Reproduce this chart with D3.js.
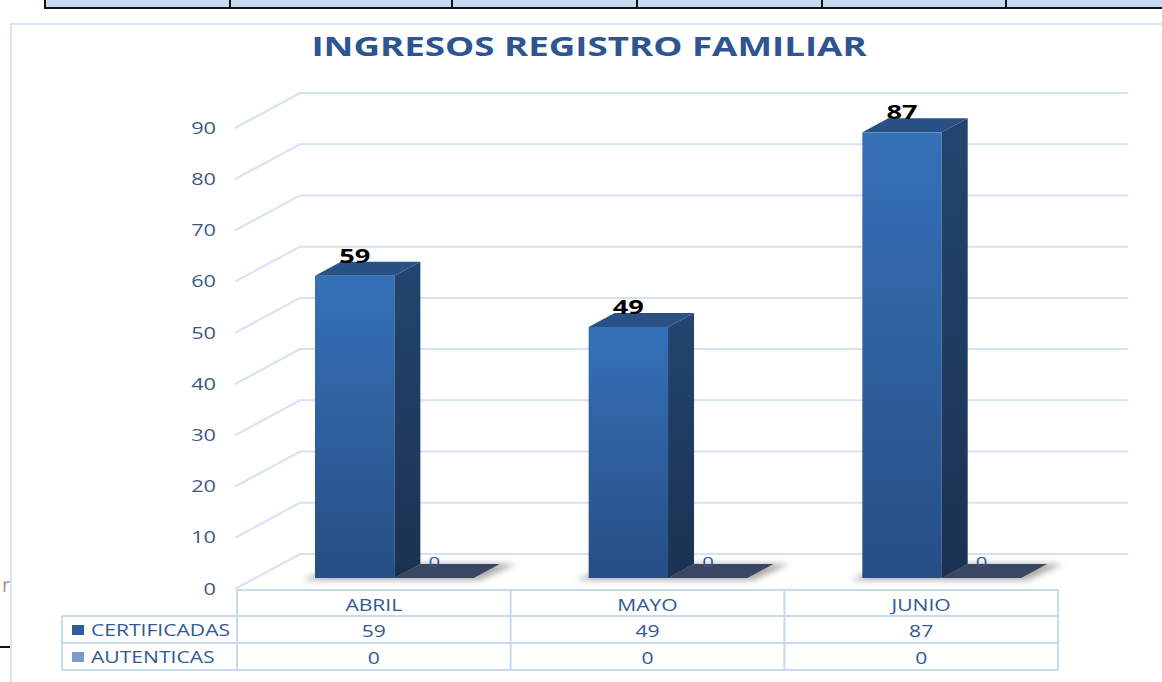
<!DOCTYPE html>
<html>
<head>
<meta charset="utf-8">
<script src="https://cdn.jsdelivr.net/npm/d3@7"></script>
<style>
  body { margin: 0; background: #fff; }
  svg { display: block; font-family: "Open Sans", "DejaVu Sans", sans-serif; }
</style>
</head>
<body>
<svg width="1162" height="682"></svg>
<script>
// data
var categories = ["ABRIL", "MAYO", "JUNIO"];
var seriesNames = ["CERTIFICADAS", "AUTENTICAS"];
var certificadas = [59, 49, 87];
var autenticas = [0, 0, 0];
var yTicks = [0, 10, 20, 30, 40, 50, 60, 70, 80, 90];

var svg = d3.select("svg");
var defs = svg.append("defs");
var stretch = 1.36; // the original text is drawn wide

// text placed at x,y and stretched horizontally
function label(g, x, y, str, size, anchor, fill, weight) {
  return g.append("text")
    .attr("transform", "translate(" + x + "," + y + ") scale(" + stretch + ",1)")
    .attr("text-anchor", anchor || "middle")
    .attr("font-size", size)
    .attr("font-weight", weight || "normal")
    .attr("fill", fill || "#2f5a94")
    .text(str);
}

// gradients
var gFront = defs.append("linearGradient").attr("id", "front").attr("x1", 0).attr("y1", 0).attr("x2", 0).attr("y2", 1);
gFront.append("stop").attr("offset", "0%").attr("stop-color", "#3571b8");
gFront.append("stop").attr("offset", "100%").attr("stop-color", "#274e85");
var gSide = defs.append("linearGradient").attr("id", "side").attr("x1", 0).attr("y1", 0).attr("x2", 0).attr("y2", 1);
gSide.append("stop").attr("offset", "0%").attr("stop-color", "#23456f");
gSide.append("stop").attr("offset", "100%").attr("stop-color", "#1a3252");
defs.append("filter").attr("id", "blur").attr("x", "-20%").attr("y", "-100%").attr("width", "140%").attr("height", "300%")
  .append("feGaussianBlur").attr("stdDeviation", 3);

// page bits around the chart
var topCols = [45, 230, 452, 637, 822, 1006];
svg.append("rect").attr("x", 45).attr("y", 0).attr("width", 1117).attr("height", 8).attr("fill", "#c5d9f1");
svg.append("line").attr("x1", 45).attr("x2", 1162).attr("y1", 8).attr("y2", 8).attr("stroke", "#111").attr("stroke-width", 2);
topCols.forEach(function(x) {
  svg.append("line").attr("x1", x).attr("x2", x).attr("y1", 0).attr("y2", 9).attr("stroke", "#111").attr("stroke-width", 2);
});
svg.append("path").attr("d", "M11,682 V24 H1162").attr("fill", "none").attr("stroke", "#dbe5f3").attr("stroke-width", 2);
svg.append("line").attr("x1", 0).attr("x2", 10).attr("y1", 647).attr("y2", 647).attr("stroke", "#111").attr("stroke-width", 2);
svg.append("text").attr("x", 2).attr("y", 592).attr("fill", "#999").attr("font-size", 20).text("r");

// title
label(svg, 589, 56, "INGRESOS REGISTRO FAMILIAR", 27, "middle", "#2c5591", "bold");

// 3d geometry
var depthX = 65, depthY = -35;
var y = d3.scaleLinear().domain([0, 90]).range([589, 128]);
var x = d3.scaleBand().domain(categories).range([237, 1058]);
var xs = d3.scaleBand().domain(seriesNames).range([x.bandwidth() * 0.285, x.bandwidth() * 0.865]);

// back wall gridlines
var grid = svg.append("g");
yTicks.forEach(function(t) {
  var yf = y(t);
  grid.append("path")
    .attr("d", "M235," + yf + " L" + (235 + depthX) + "," + (yf + depthY) + " H1128")
    .attr("fill", "none").attr("stroke", "#d5e2f3").attr("stroke-width", 2);
});

// axis labels
var yAxis = d3.axisLeft(y).tickValues(yTicks).tickSize(0).tickPadding(0);
var ag = svg.append("g").attr("transform", "translate(216,0)").call(yAxis);
ag.select(".domain").remove();
ag.selectAll("text").attr("font-size", 16).attr("fill", "#3d5a84")
  .attr("font-family", "'Open Sans', 'DejaVu Sans', sans-serif")
  .attr("transform", "scale(" + stretch + ",1)");

// bars: front face sits a bit inside the depth
var f0y = -11, bdx = 26, bdy = -14;
var unit = y(0) - y(1);
var bars = svg.append("g");
categories.forEach(function(c, i) {
  var x0 = x(c) + xs("CERTIFICADAS");
  var w = xs.bandwidth();
  var base = y(0) + f0y;
  // shadow
  bars.append("path")
    .attr("d", "M" + (x0 - 12) + "," + (base + 2) + " L" + (x0 + 2 * w + 6) + "," + (base + 2) +
      " L" + (x0 + 2 * w + bdx + 16) + "," + (base + bdy) + " L" + (x0 + bdx) + "," + (base + bdy) + "Z")
    .attr("fill", "#555").attr("opacity", 0.5).attr("filter", "url(#blur)");

  // autenticas slab (value 0)
  var sx = x0 + w;
  var sh = autenticas[i] * unit;
  bars.append("path")
    .attr("d", "M" + sx + "," + (base - sh) + " H" + (sx + w) + " l" + bdx + "," + bdy + " H" + (sx + bdx) + "Z")
    .attr("fill", "#3a4762");
  label(bars, sx + bdx + 14, base - sh - 11, autenticas[i], 15, "middle", "#2f5a94");

  // certificadas bar
  var h = certificadas[i] * unit;
  var top = base - h;
  bars.append("rect").attr("x", x0).attr("y", top).attr("width", w).attr("height", h).attr("fill", "url(#front)");
  bars.append("path")
    .attr("d", "M" + (x0 + w) + "," + top + " l" + bdx + "," + bdy + " V" + (base + bdy) + " L" + (x0 + w) + "," + base + "Z")
    .attr("fill", "url(#side)");
  bars.append("path")
    .attr("d", "M" + x0 + "," + top + " H" + (x0 + w) + " l" + bdx + "," + bdy + " H" + (x0 + bdx) + "Z")
    .attr("fill", "#295186");
  label(bars, x0 + w / 2, top + bdy + 1, certificadas[i], 20, "middle", "#000", "bold");
});

// data table
var rowY = [590, 616, 643, 670];
var tbl = svg.append("g").attr("stroke", "#c9daef").attr("stroke-width", 2);
tbl.append("line").attr("x1", 237).attr("x2", 1058).attr("y1", rowY[0]).attr("y2", rowY[0]);
rowY.slice(1).forEach(function(yy) {
  tbl.append("line").attr("x1", 62).attr("x2", 1058).attr("y1", yy).attr("y2", yy);
});
tbl.append("line").attr("x1", 62).attr("x2", 62).attr("y1", rowY[1]).attr("y2", rowY[3]);
[237].concat(categories.map(function(c) { return x(c) + x.bandwidth(); })).forEach(function(xx) {
  tbl.append("line").attr("x1", xx).attr("x2", xx).attr("y1", rowY[0]).attr("y2", rowY[3]);
});

var txt = svg.append("g");
categories.forEach(function(c, i) {
  var cx = x(c) + x.bandwidth() / 2;
  label(txt, cx, 611, c, 15.5);
  label(txt, cx, 637, certificadas[i], 15.5);
  label(txt, cx, 664, autenticas[i], 15.5);
});
var legendColors = ["#2d5c9c", "#7d9bc9"];
seriesNames.forEach(function(s, i) {
  var yy = rowY[i + 1];
  svg.append("rect").attr("x", 72).attr("y", yy + 9).attr("width", 12).attr("height", 10).attr("fill", legendColors[i]);
  label(svg, 91, yy + 20, s, 15.5, "start");
});
</script>
</body>
</html>
